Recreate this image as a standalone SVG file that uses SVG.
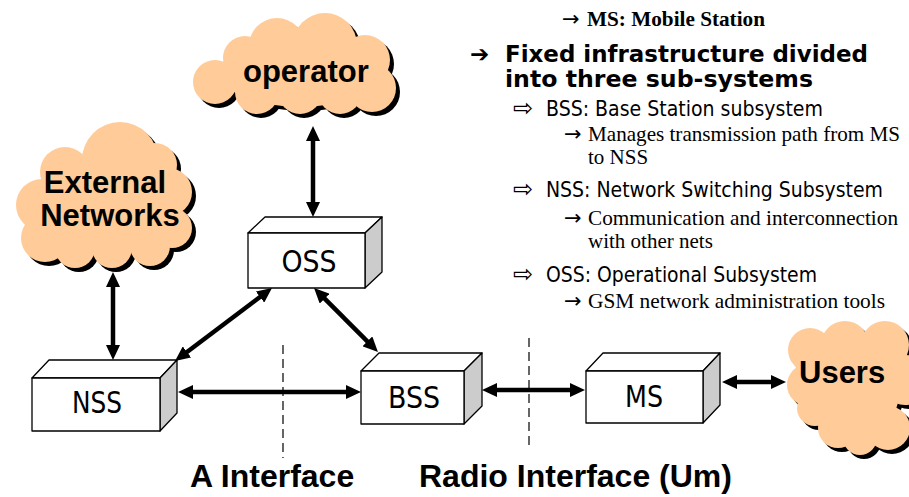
<svg xmlns="http://www.w3.org/2000/svg" width="909" height="497" viewBox="0 0 909 497">
<defs>
<style>
.box{fill:#fff;stroke:#000;stroke-width:1.3;stroke-linejoin:round}
.side{fill:#ccc;stroke:#000;stroke-width:1.3;stroke-linejoin:round}
.blabel{font-family:"Liberation Sans Narrow","DejaVu Sans Condensed","Liberation Sans",sans-serif;font-size:31px;fill:#000;text-anchor:middle}
.cloud{fill:#FFCC99}
.shadow{fill:#000}
.ctext{font-family:"Liberation Sans",Arial,sans-serif;font-weight:bold;font-size:31px;fill:#000}
.btext{font-family:"Liberation Sans",Arial,sans-serif;font-weight:bold;font-size:32px;fill:#000}
.conn{stroke:#000;stroke-width:4.5;fill:none;marker-start:url(#ah);marker-end:url(#ah)}
.dash{stroke:#000;stroke-width:1.2;stroke-dasharray:9 5;fill:none}
.l1{font-family:"DejaVu Sans",Verdana,sans-serif;font-weight:bold;font-size:23px;fill:#000}
.l2{font-family:"Liberation Sans Narrow","DejaVu Sans Condensed","Liberation Sans",sans-serif;font-size:22px;fill:#000}
.l2b{font-family:"DejaVu Sans",sans-serif;font-size:24px;fill:#000}
.l3{font-family:"Liberation Serif","Times New Roman",serif;font-size:21px;fill:#000}
.ar{font-family:"DejaVu Sans",sans-serif;font-size:21px;fill:#000}
</style>
<marker id="ah" viewBox="0 0 15 14" refX="7" refY="7" markerWidth="15" markerHeight="14" markerUnits="userSpaceOnUse" orient="auto-start-reverse">
<path d="M0,0 L15,7 L0,14 z" fill="#000"/>
</marker>
</defs>

<g id="connectors">
<line class="conn" x1="313" y1="134" x2="313" y2="209"/>
<line class="conn" x1="113" y1="280" x2="113" y2="352"/>
<line class="conn" x1="265.6" y1="292.8" x2="181.4" y2="356.2"/>
<line class="conn" x1="319.7" y1="293.7" x2="372.3" y2="346.3"/>
<line class="conn" x1="186" y1="392" x2="353" y2="392"/>
<line class="conn" x1="490" y1="390" x2="577" y2="390"/>
<line class="conn" x1="730" y1="382" x2="778" y2="382"/>
</g>

<g id="interfaces">
<line class="dash" x1="283" y1="345" x2="283" y2="458"/>
<line class="dash" x1="529" y1="338" x2="529" y2="450"/>
<text class="btext" x="190" y="487">A Interface</text>
<text class="btext" x="419" y="487">Radio Interface (Um)</text>
</g>

<g id="operator">
<g class="shadow" transform="translate(4,4)">
<circle cx="215" cy="82" r="22"/><circle cx="245" cy="58" r="22"/><circle cx="277" cy="46" r="28"/><circle cx="325" cy="45" r="32"/><circle cx="365" cy="60" r="25"/><circle cx="372" cy="88" r="24"/><circle cx="340" cy="92" r="22"/><circle cx="300" cy="92" r="22"/><circle cx="257" cy="92" r="22"/><ellipse cx="300" cy="72" rx="80" ry="35"/>
</g>
<g class="cloud">
<circle cx="215" cy="82" r="22"/><circle cx="245" cy="58" r="22"/><circle cx="277" cy="46" r="28"/><circle cx="325" cy="45" r="32"/><circle cx="365" cy="60" r="25"/><circle cx="372" cy="88" r="24"/><circle cx="340" cy="92" r="22"/><circle cx="300" cy="92" r="22"/><circle cx="257" cy="92" r="22"/><ellipse cx="300" cy="72" rx="80" ry="35"/>
</g>
<text class="ctext" x="243" y="82">operator</text>
</g>

<g id="external">
<g class="shadow" transform="translate(4,4)">
<circle cx="120" cy="160" r="38"/><circle cx="65" cy="172" r="25"/><circle cx="42" cy="205" r="26"/><circle cx="45" cy="238" r="24"/><circle cx="75" cy="248" r="20"/><circle cx="112" cy="248" r="20"/><circle cx="150" cy="246" r="20"/><circle cx="172" cy="228" r="20"/><circle cx="168" cy="192" r="24"/><circle cx="155" cy="165" r="22"/><ellipse cx="105" cy="205" rx="70" ry="50"/>
</g>
<g class="cloud">
<circle cx="120" cy="160" r="38"/><circle cx="65" cy="172" r="25"/><circle cx="42" cy="205" r="26"/><circle cx="45" cy="238" r="24"/><circle cx="75" cy="248" r="20"/><circle cx="112" cy="248" r="20"/><circle cx="150" cy="246" r="20"/><circle cx="172" cy="228" r="20"/><circle cx="168" cy="192" r="24"/><circle cx="155" cy="165" r="22"/><ellipse cx="105" cy="205" rx="70" ry="50"/>
</g>
<text class="ctext" x="105" y="193" text-anchor="middle">External</text>
<text class="ctext" x="110" y="226" text-anchor="middle">Networks</text>
</g>

<g id="users">
<g class="shadow" transform="translate(4,4)">
<circle cx="810" cy="350" r="22"/><circle cx="845" cy="345" r="24"/><circle cx="885" cy="345" r="24"/><circle cx="905" cy="380" r="25"/><circle cx="808" cy="385" r="21"/><circle cx="815" cy="408" r="18"/><circle cx="838" cy="428" r="20"/><circle cx="860" cy="438" r="17"/><circle cx="888" cy="428" r="22"/><ellipse cx="855" cy="390" rx="45" ry="45"/>
</g>
<g class="cloud">
<circle cx="810" cy="350" r="22"/><circle cx="845" cy="345" r="24"/><circle cx="885" cy="345" r="24"/><circle cx="905" cy="380" r="25"/><circle cx="808" cy="385" r="21"/><circle cx="815" cy="408" r="18"/><circle cx="838" cy="428" r="20"/><circle cx="860" cy="438" r="17"/><circle cx="888" cy="428" r="22"/><ellipse cx="855" cy="390" rx="45" ry="45"/>
</g>
<text class="ctext" x="799" y="383">Users</text>
</g>

<g id="oss">
<polygon class="box" points="248,233 265,217 382,217 365,233"/>
<polygon class="side" points="365,233 382,217 382,272 365,288"/>
<rect class="box" x="248" y="233" width="117" height="55"/>
<text class="blabel" x="309" y="272" textLength="55" lengthAdjust="spacingAndGlyphs">OSS</text>
</g>

<g id="nss">
<polygon class="box" points="32,378 49,360 177,360 160,378"/>
<polygon class="side" points="160,378 177,360 177,413 160,431"/>
<rect class="box" x="32" y="378" width="128" height="53"/>
<text class="blabel" x="97" y="413" textLength="50" lengthAdjust="spacingAndGlyphs">NSS</text>
</g>

<g id="bss">
<polygon class="box" points="361,371 379,353 482,353 464,371"/>
<polygon class="side" points="464,371 482,353 482,406 464,424"/>
<rect class="box" x="361" y="371" width="103" height="53"/>
<text class="blabel" x="414" y="408" textLength="52" lengthAdjust="spacingAndGlyphs">BSS</text>
</g>

<g id="ms">
<polygon class="box" points="586,371 603,353 720,353 703,371"/>
<polygon class="side" points="703,371 720,353 720,405 703,423"/>
<rect class="box" x="586" y="371" width="117" height="52"/>
<text class="blabel" x="644" y="407" textLength="38" lengthAdjust="spacingAndGlyphs">MS</text>
</g>

<g id="notes">
<text class="ar" x="562" y="26">→</text>
<text class="l3" x="587" y="26" font-weight="bold" textLength="178" lengthAdjust="spacingAndGlyphs">MS: Mobile Station</text>
<text class="l1" x="470" y="62" font-size="29">➔</text>
<text class="l1" x="505" y="62" textLength="363" lengthAdjust="spacingAndGlyphs">Fixed infrastructure divided</text>
<text class="l1" x="505" y="87" textLength="308" lengthAdjust="spacingAndGlyphs">into three sub-systems</text>
<text class="l2b" x="513" y="116">⇨</text>
<text class="l2" x="546" y="116" textLength="277" lengthAdjust="spacingAndGlyphs">BSS: Base Station subsystem</text>
<text class="ar" x="564" y="141">→</text>
<text class="l3" x="588" y="141" textLength="312" lengthAdjust="spacingAndGlyphs">Manages transmission path from MS</text>
<text class="l3" x="588" y="164">to NSS</text>
<text class="l2b" x="513" y="197">⇨</text>
<text class="l2" x="546" y="197" textLength="337" lengthAdjust="spacingAndGlyphs">NSS: Network Switching Subsystem</text>
<text class="ar" x="564" y="225">→</text>
<text class="l3" x="588" y="225" textLength="310" lengthAdjust="spacingAndGlyphs">Communication and interconnection</text>
<text class="l3" x="588" y="248">with other nets</text>
<text class="l2b" x="513" y="282">⇨</text>
<text class="l2" x="546" y="282" textLength="271" lengthAdjust="spacingAndGlyphs">OSS: Operational Subsystem</text>
<text class="ar" x="564" y="308">→</text>
<text class="l3" x="588" y="308" textLength="297" lengthAdjust="spacingAndGlyphs">GSM network administration tools</text>
</g>
</svg>
